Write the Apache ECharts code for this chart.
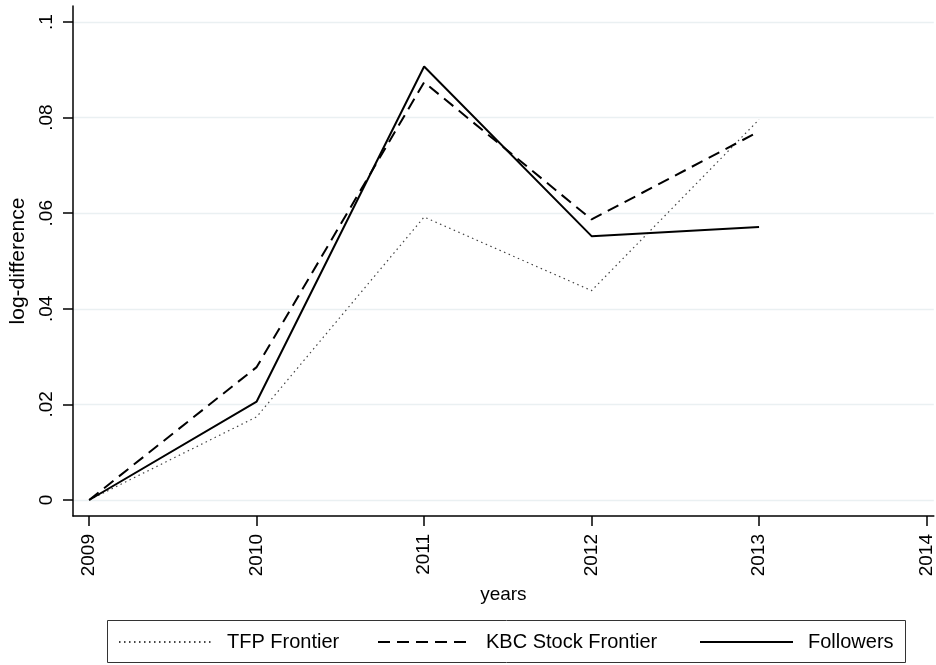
<!DOCTYPE html>
<html>
<head>
<meta charset="utf-8">
<script src="https://cdn.jsdelivr.net/npm/echarts@6/dist/echarts.min.js"></script>
<style>
html,body{margin:0;padding:0;background:#fff;}
#chart{width:936px;height:665px;}
</style>
</head>
<body>
<div id="chart"></div>
<script>
// ---- data ----
var years = [2009, 2010, 2011, 2012, 2013];
var tfpFrontier = [0, 0.0174, 0.0592, 0.0438, 0.0796];
var kbcFrontier = [0, 0.0278, 0.0874, 0.0587, 0.0771];
var followers = [0, 0.0206, 0.0907, 0.0552, 0.0571];
var xTicks = [2009, 2010, 2011, 2012, 2013, 2014];
var yTicks = [0, 0.02, 0.04, 0.06, 0.08, 0.1];
var yTickLabels = ['0', '.02', '.04', '.06', '.08', '.1'];
var seriesNames = ['TFP Frontier', 'KBC Stock Frontier', 'Followers'];

function pairs(vals) {
  return years.map(function (y, i) { return [y, vals[i]]; });
}
function yLabel(v) {
  var best = 0, d = Infinity;
  for (var i = 0; i < yTicks.length; i++) {
    var dd = Math.abs(yTicks[i] - v);
    if (dd < d) { d = dd; best = i; }
  }
  return yTickLabels[best];
}

var FONT = "'Liberation Sans', Arial, sans-serif";
var chart = echarts.init(document.getElementById('chart'), null, {renderer: 'canvas'});

var legendBase = {
  orient: 'horizontal',
  top: 632,
  padding: 0,
  itemWidth: 93,
  itemHeight: 20,
  selectedMode: false,
  itemStyle: {opacity: 0},
  textStyle: {fontFamily: FONT, fontSize: 20, color: '#000', padding: [0, 0, 0, 10]}
};

var option = {
  animation: false,
  backgroundColor: '#fff',
  textStyle: {fontFamily: FONT},
  grid: {left: 69, right: 0, top: 6, bottom: 149, containLabel: false},
  xAxis: {
    type: 'value',
    min: 2008.9034,
    max: 2014.0433,
    name: 'years',
    nameLocation: 'middle',
    nameGap: 69,
    nameTextStyle: {fontFamily: FONT, fontSize: 19, color: '#000'},
    axisLine: {show: true, onZero: false, lineStyle: {color: '#000', width: 1.5}},
    axisTick: {show: true, length: 10, lineStyle: {color: '#000', width: 1.5}, customValues: xTicks},
    axisLabel: {
      customValues: xTicks, rotate: 90, margin: 18,
      fontFamily: FONT, fontSize: 19, color: '#000',
      formatter: function (v) { return String(Math.round(v)); }
    },
    splitLine: {show: false}
  },
  yAxis: {
    type: 'value',
    min: -0.003347,
    max: 0.103347,
    name: 'log-difference',
    nameLocation: 'middle',
    nameGap: 44,
    nameTextStyle: {fontFamily: FONT, fontSize: 21, color: '#000'},
    axisLine: {show: true, lineStyle: {color: '#000', width: 1.5}},
    axisTick: {show: true, length: 10, lineStyle: {color: '#000', width: 1.5}, customValues: yTicks},
    axisLabel: {
      customValues: yTicks, rotate: 90, margin: 17,
      fontFamily: FONT, fontSize: 19, color: '#000',
      formatter: yLabel
    },
    splitLine: {show: true, lineStyle: {color: '#eaf0f2', width: 1.3}}
  },
  legend: [
    Object.assign({}, legendBase, {left: 118, data: [seriesNames[0]]}),
    Object.assign({}, legendBase, {left: 377, data: [seriesNames[1]]}),
    Object.assign({}, legendBase, {left: 699, data: [seriesNames[2]]})
  ],
  graphic: [{
    type: 'rect',
    shape: {x: 107.5, y: 620.5, width: 798, height: 42},
    style: {fill: 'none', stroke: '#333', lineWidth: 1},
    silent: true
  }],
  series: [
    {
      name: seriesNames[0], type: 'line', data: pairs(tfpFrontier),
      symbol: 'none', z: 2,
      lineStyle: {color: '#444', width: 1.2, type: [1.5, 3.5]},
      itemStyle: {color: '#444'}
    },
    {
      name: seriesNames[1], type: 'line', data: pairs(kbcFrontier),
      symbol: 'none', z: 3,
      lineStyle: {color: '#000', width: 2, type: [12, 7]},
      itemStyle: {color: '#000'}
    },
    {
      name: seriesNames[2], type: 'line', data: pairs(followers),
      symbol: 'none', z: 4,
      lineStyle: {color: '#000', width: 2, type: 'solid'},
      itemStyle: {color: '#000'}
    }
  ]
};
chart.setOption(option);
</script>
</body>
</html>
